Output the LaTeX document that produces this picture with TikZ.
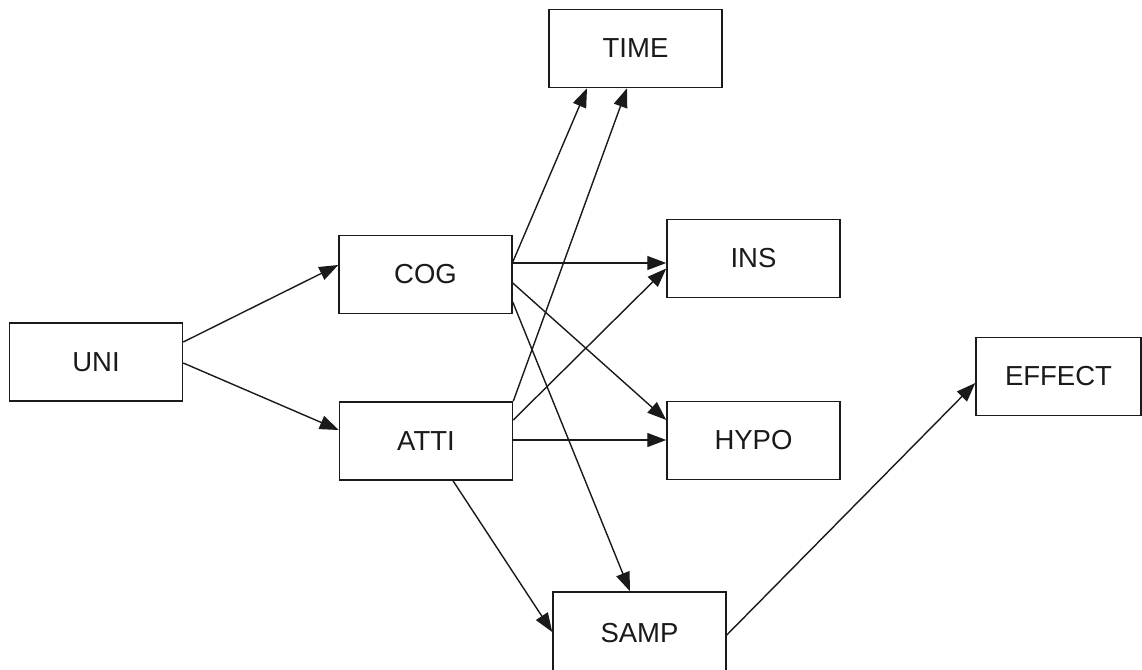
\documentclass[tikz,border=0pt]{standalone}
\usepackage{fontspec}
\setmainfont{Liberation Sans}
\usetikzlibrary{arrows.meta,calc}
\definecolor{ink}{HTML}{1A1A1A}
\begin{document}
\begin{tikzpicture}[x=1pt,y=-1pt,
  box/.style={draw=ink,line width=1.5pt,minimum width=173pt,minimum height=78pt,inner sep=0pt,
    font=\fontsize{27.5}{30}\selectfont,text=ink},
  conn/.style={draw=ink,line width=1.4pt,-{Triangle[length=19pt,width=14pt]}}]
\fill[white] (0,0) rectangle (1142,669);
\useasboundingbox (0,0) rectangle (1142,669);
\node[box] (TIME) at (635.5,48.5) {TIME};
\node[box] (COG) at (425.5,274.5) {COG};
\node[box] (INS) at (753.5,258.5) {INS};
\node[box] (UNI) at (96,362) {UNI};
\node[box,minimum width=165pt] (EFFECT) at (1058.5,376.5) {EFFECT};
\node[box] (ATTI) at (426,441) {ATTI};
\node[box] (HYPO) at (753.5,440.5) {HYPO};
\node[box,minimum height=84pt] (SAMP) at (639.5,634) {\raisebox{2pt}{SAMP}};
\draw[conn] ($(UNI.east)+(0,-20)$) -- ($(COG.west)+(0,-9.5)$);
\draw[conn] ($(UNI.east)+(0,1)$) -- ($(ATTI.west)+(0,-11)$);
\draw[conn] ($(COG.east)+(0,-12.5)$) -- ($(TIME.south)+(-48.5,0)$);
\draw[conn] (ATTI.north east) -- ($(TIME.south)+(-8.5,0)$);
\draw[conn] ($(COG.east)+(0,-11.5)$) -- ($(INS.west)+(0,4.5)$);
\draw[conn] ($(ATTI.east)+(0,-21)$) -- ($(INS.west)+(0,10)$);
\draw[conn] ($(COG.east)+(0,8.5)$) -- ($(HYPO.west)+(0,-20.5)$);
\draw[conn] ($(ATTI.east)+(0,-1)$) -- ($(HYPO.west)+(0,-0.5)$);
\draw[conn] ($(COG.east)+(0,27.5)$) -- ($(SAMP.north)+(-9.5,0)$);
\draw[conn] ($(ATTI.south)+(27,0)$) -- ($(SAMP.west)+(0,-2)$);
\draw[conn] ($(SAMP.east)+(0,1)$) -- ($(EFFECT.west)+(0,6.5)$);
\end{tikzpicture}
\end{document}
